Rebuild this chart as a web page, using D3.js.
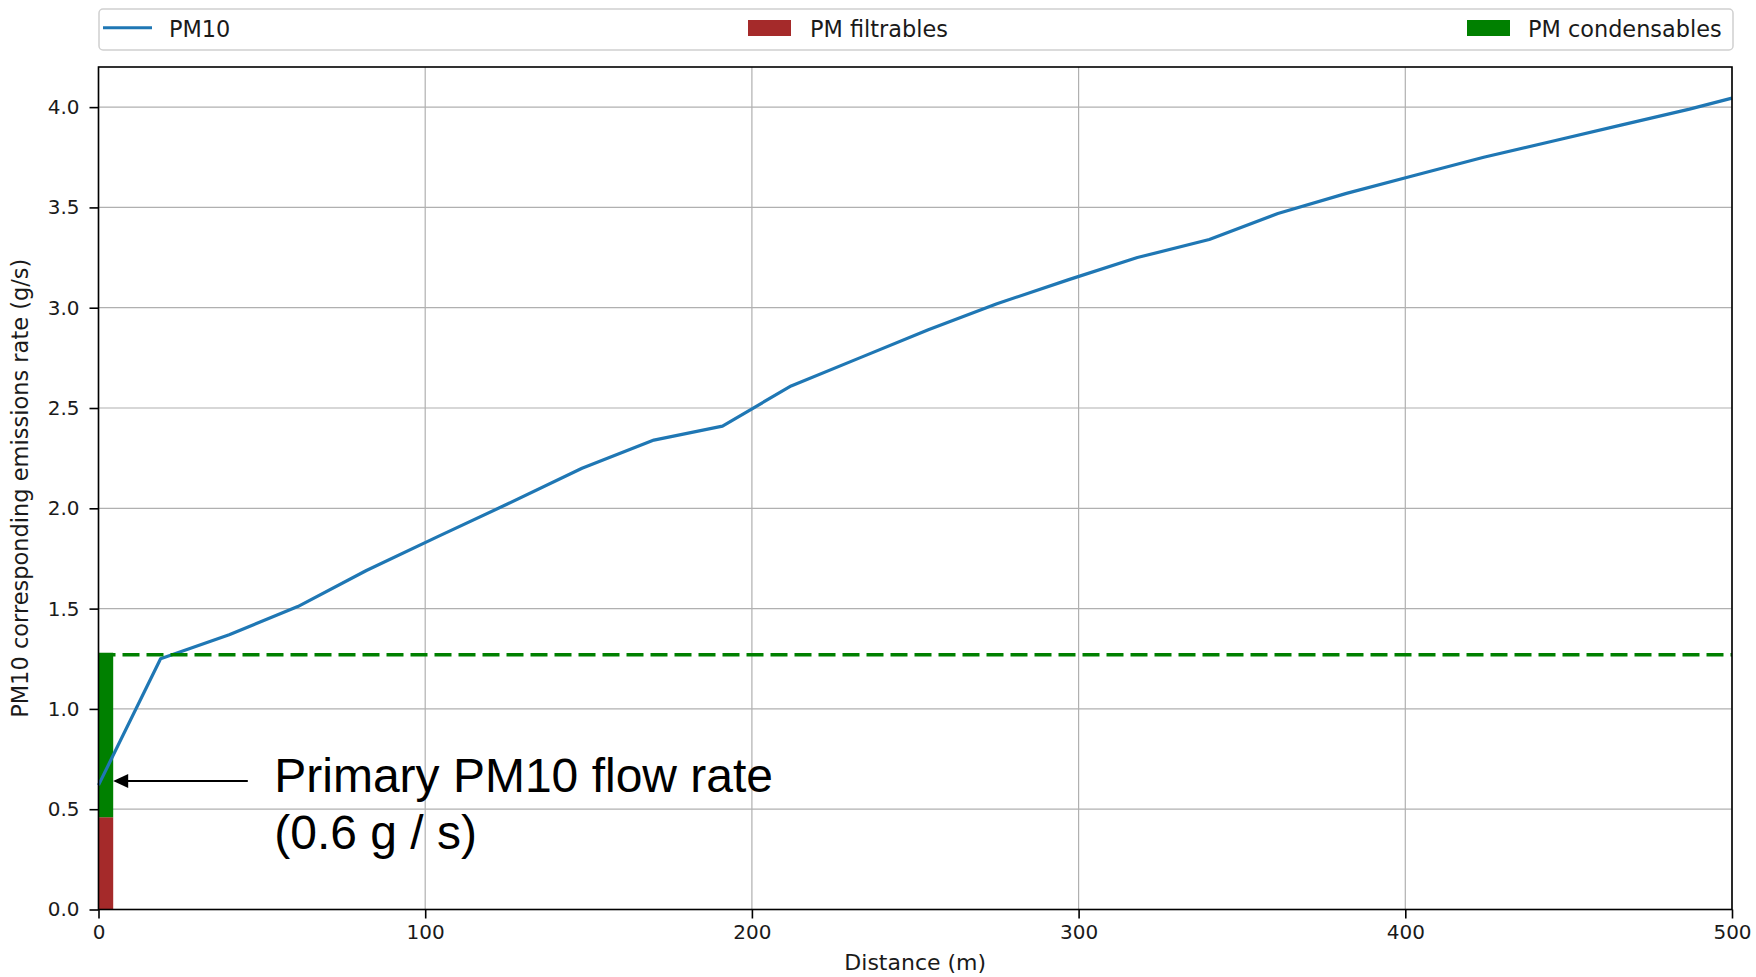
<!DOCTYPE html>
<html>
<head>
<meta charset="utf-8">
<script src="https://cdn.jsdelivr.net/npm/d3@7"></script>
<style>
  html, body { margin: 0; padding: 0; background: #fff; }
  svg { display: block; }
</style>
</head>
<body>
<svg id="chart" width="1756" height="977"></svg>
<script>
// ---- data ----
const distances = [0, 19, 40, 61, 82, 104, 125, 148, 170, 191, 212, 233, 254, 275, 297, 318, 340, 361, 382, 403, 424, 445, 466, 487, 500];
const pm10 = [0.62, 1.25, 1.37, 1.51, 1.69, 1.86, 2.02, 2.20, 2.34, 2.41, 2.61, 2.75, 2.89, 3.02, 3.14, 3.25, 3.34, 3.47, 3.57, 3.66, 3.75, 3.83, 3.91, 3.99, 4.045];
const pmFiltrables = 0.46;
const pmCondensables = 0.82;
const referenceLevel = 1.27;
const primaryFlow = 0.64;
const xTicks = [0, 100, 200, 300, 400, 500];
const yTicks = [0, 0.5, 1.0, 1.5, 2.0, 2.5, 3.0, 3.5, 4.0];
const legendLabels = ["PM10", "PM filtrables", "PM condensables"];
const annotationLines = ["Primary PM10 flow rate", "(0.6 g / s)"];

// ---- layout ----
const W = 1756, H = 977;
const plot = { left: 98.5, right: 1732, top: 67, bottom: 909.5 };
const colors = { line: "#1f77b4", filt: "#a52a2a", cond: "#008000" };
const svg = d3.select("#chart");

const x = d3.scaleLinear().domain([0, 500]).range([plot.left, plot.right]);
const y = d3.scaleLinear().domain([0, 4.2]).range([plot.bottom, plot.top]);
const barWidth = 4.5; // in data units

// grid
const grid = svg.append("g");
grid.selectAll("line.vx").data(xTicks).join("line")
  .attr("x1", d => x(d)).attr("x2", d => x(d))
  .attr("y1", plot.top).attr("y2", plot.bottom)
  .attr("stroke", "#b0b0b0").attr("stroke-width", 1.2);
grid.selectAll("line.hy").data(yTicks).join("line")
  .attr("x1", plot.left).attr("x2", plot.right)
  .attr("y1", d => y(d)).attr("y2", d => y(d))
  .attr("stroke", "#b0b0b0").attr("stroke-width", 1.2);

// bars (stacked)
svg.append("rect")
  .attr("x", x(0)).attr("width", x(barWidth) - x(0))
  .attr("y", y(pmFiltrables)).attr("height", y(0) - y(pmFiltrables))
  .attr("fill", colors.filt);
svg.append("rect")
  .attr("x", x(0)).attr("width", x(barWidth) - x(0))
  .attr("y", y(pmFiltrables + pmCondensables)).attr("height", y(pmFiltrables) - y(pmFiltrables + pmCondensables))
  .attr("fill", colors.cond);

// PM10 line
const lineGen = d3.line().x((d, i) => x(distances[i])).y(d => y(d));
svg.append("path")
  .datum(pm10)
  .attr("d", lineGen)
  .attr("fill", "none")
  .attr("stroke", colors.line)
  .attr("stroke-width", 3.2)
  .attr("stroke-linejoin", "round");

// dashed reference line
svg.append("line")
  .attr("x1", x(0)).attr("x2", x(500))
  .attr("y1", y(referenceLevel)).attr("y2", y(referenceLevel))
  .attr("stroke", colors.cond).attr("stroke-width", 3.6)
  .attr("stroke-dasharray", "17,7");

// axes
const xAxis = d3.axisBottom(x).tickValues(xTicks).tickSize(9).tickPadding(6).tickFormat(d3.format("d"));
const yAxis = d3.axisLeft(y).tickValues(yTicks).tickSize(9).tickPadding(10).tickFormat(d3.format(".1f"));
const gx = svg.append("g").attr("transform", `translate(0,${plot.bottom})`).call(xAxis);
const gy = svg.append("g").attr("transform", `translate(${plot.left},0)`).call(yAxis);
[gx, gy].forEach(g => {
  g.select(".domain").remove();
  g.selectAll(".tick line").attr("stroke", "#000").attr("stroke-width", 1.6);
  g.selectAll(".tick text").attr("fill", "#1a1a1a")
    .style("font-family", "'DejaVu Sans', sans-serif").style("font-size", "20px");
});

// spines
svg.append("rect")
  .attr("x", plot.left).attr("y", plot.top)
  .attr("width", plot.right - plot.left).attr("height", plot.bottom - plot.top)
  .attr("fill", "none").attr("stroke", "#000").attr("stroke-width", 1.6);

// axis labels
svg.append("text")
  .attr("x", (plot.left + plot.right) / 2).attr("y", 970)
  .attr("text-anchor", "middle")
  .style("font-family", "'DejaVu Sans', sans-serif").style("font-size", "22px")
  .attr("fill", "#1a1a1a")
  .text("Distance (m)");
svg.append("text")
  .attr("transform", `translate(28,${(plot.top + plot.bottom) / 2}) rotate(-90)`)
  .attr("text-anchor", "middle")
  .style("font-family", "'DejaVu Sans', sans-serif").style("font-size", "22.5px")
  .attr("fill", "#1a1a1a")
  .text("PM10 corresponding emissions rate (g/s)");

// annotation arrow
const arrowY = y(primaryFlow);
const arrowTipX = x(barWidth);
const arrowStartX = x(45.7);
svg.append("line")
  .attr("x1", arrowStartX).attr("x2", arrowTipX + 12)
  .attr("y1", arrowY).attr("y2", arrowY)
  .attr("stroke", "#000").attr("stroke-width", 2);
svg.append("path")
  .attr("d", `M${arrowTipX},${arrowY} L${arrowTipX + 15},${arrowY - 7} L${arrowTipX + 15},${arrowY + 7} Z`)
  .attr("fill", "#000");
const annot = svg.append("text")
  .style("font-family", "'Liberation Sans', Arial, sans-serif").style("font-size", "48px")
  .attr("fill", "#000");
annot.selectAll("tspan").data(annotationLines).join("tspan")
  .attr("x", x(53.8))
  .attr("y", (d, i) => arrowY + 11 + i * 56.6)
  .text(d => d);

// legend
const lg = svg.append("g");
lg.append("rect")
  .attr("x", 99).attr("y", 9).attr("width", 1634).attr("height", 41)
  .attr("rx", 4).attr("ry", 4)
  .attr("fill", "#fff").attr("fill-opacity", 0.8)
  .attr("stroke", "#d0d0d0").attr("stroke-width", 1.5);
const legendItems = [
  { label: legendLabels[0], type: "line", color: colors.line, hx: 103, tx: 169 },
  { label: legendLabels[1], type: "patch", color: colors.filt, hx: 748, tx: 810 },
  { label: legendLabels[2], type: "patch", color: colors.cond, hx: 1467, tx: 1528 }
];
legendItems.forEach(it => {
  if (it.type === "line") {
    lg.append("line").attr("x1", it.hx).attr("x2", it.hx + 49)
      .attr("y1", 27.7).attr("y2", 27.7)
      .attr("stroke", it.color).attr("stroke-width", 3);
  } else {
    lg.append("rect").attr("x", it.hx).attr("y", 20).attr("width", 43).attr("height", 16)
      .attr("fill", it.color);
  }
  lg.append("text").attr("x", it.tx).attr("y", 36.7)
    .style("font-family", "'DejaVu Sans', sans-serif").style("font-size", "22.4px")
    .attr("fill", "#1a1a1a")
    .text(it.label);
});
</script>
</body>
</html>
